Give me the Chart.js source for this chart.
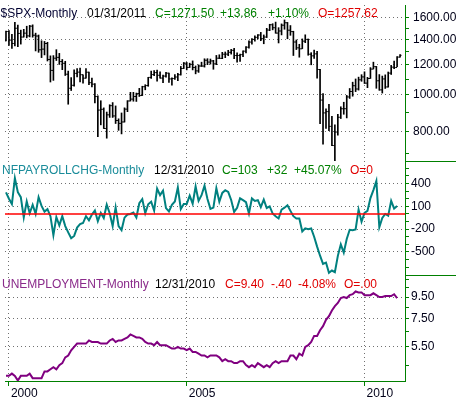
<!DOCTYPE html>
<html>
<head>
    <title>SPX / Payrolls / Unemployment - Monthly</title>
    <style>
        body { margin: 0; padding: 0; background-color: #ffffff; }
        #chart-box { width: 456px; height: 398px; }
    </style>
    <script src="https://cdn.jsdelivr.net/npm/chart.js"></script>
</head>
<body>
<div id="chart-box"><canvas id="market-chart" width="456" height="398"></canvas></div>

<script>
    // first month on the chart is Dec 1999, one value per month after that
    var firstMonth = 1999 + 11 / 12;

    // $SPX monthly bars, Dec 1999 .. Jan 2011
    var spxOpen = [1388.91,
        1469.25, 1394.46, 1366.42, 1498.58, 1452.43, 1420.60, 1454.60, 1430.83, 1517.68, 1436.51, 1429.40, 1314.95,
        1320.28, 1366.01, 1239.94, 1160.33, 1249.46, 1255.82, 1224.38, 1211.23, 1133.58, 1040.94, 1059.78, 1139.45,
        1148.08, 1130.20, 1106.73, 1147.39, 1076.92, 1067.14, 989.82, 911.62, 916.07, 815.28, 885.76, 936.31,
        879.82, 855.70, 841.15, 848.18, 916.92, 963.59, 974.50, 990.31, 1008.01, 995.97, 1050.71, 1058.20,
        1111.92, 1131.13, 1144.94, 1126.21, 1107.30, 1120.68, 1140.84, 1101.72, 1104.24, 1114.58, 1130.20, 1173.82,
        1211.92, 1181.27, 1203.60, 1180.59, 1156.85, 1191.50, 1191.33, 1234.18, 1220.33, 1228.81, 1207.01, 1249.48,
        1248.29, 1280.08, 1280.66, 1294.83, 1310.61, 1270.09, 1270.20, 1276.66, 1303.82, 1335.85, 1377.94, 1400.63,
        1418.30, 1438.24, 1406.82, 1420.86, 1482.37, 1530.62, 1503.35, 1455.27, 1473.99, 1526.75, 1549.38, 1481.14,
        1468.36, 1378.55, 1330.63, 1322.70, 1385.59, 1400.38, 1280.00, 1267.38, 1282.83, 1166.36, 968.75, 896.24,
        903.25, 825.88, 735.09, 797.87, 872.81, 919.14, 919.32, 987.48, 1020.62, 1057.08, 1036.19, 1095.63,
        1115.10, 1073.87, 1104.49, 1169.43, 1186.69, 1089.41, 1030.71, 1101.60, 1049.33, 1141.20, 1183.26, 1180.55,
        1257.62];
    var spxHigh = [1473.41,
        1478.00, 1444.55, 1552.87, 1527.19, 1481.51, 1488.77, 1517.32, 1525.21, 1530.09, 1454.82, 1438.46, 1389.06,
        1383.37, 1376.38, 1267.42, 1269.30, 1315.93, 1286.62, 1239.78, 1226.27, 1155.40, 1110.61, 1163.38, 1173.62,
        1176.97, 1130.20, 1173.03, 1147.84, 1106.59, 1070.71, 994.46, 965.00, 924.02, 900.96, 941.82, 954.28,
        935.05, 864.64, 895.90, 924.24, 965.38, 1015.33, 1015.41, 1011.01, 1040.29, 1053.79, 1063.65, 1112.56,
        1155.38, 1158.98, 1163.23, 1150.57, 1127.74, 1146.34, 1140.84, 1108.96, 1131.54, 1140.13, 1188.46, 1217.33,
        1217.80, 1212.44, 1229.11, 1191.88, 1200.08, 1219.59, 1245.15, 1245.86, 1243.13, 1233.34, 1270.64, 1275.80,
        1294.90, 1297.57, 1310.88, 1318.16, 1326.70, 1290.68, 1280.42, 1306.74, 1340.28, 1389.45, 1407.89, 1431.81,
        1441.61, 1461.57, 1438.89, 1498.02, 1535.56, 1540.56, 1555.90, 1503.89, 1538.74, 1576.09, 1552.76, 1523.57,
        1471.77, 1396.02, 1359.68, 1404.57, 1440.24, 1404.05, 1292.17, 1313.15, 1303.04, 1167.03, 1007.51, 918.85,
        943.85, 877.86, 832.98, 888.70, 930.17, 956.23, 996.68, 1039.47, 1080.15, 1101.36, 1113.69, 1130.38,
        1150.45, 1112.42, 1180.16, 1219.80, 1188.58, 1131.23, 1120.95, 1129.24, 1148.90, 1196.14, 1227.08, 1262.60,
        1278.17];
    var spxLow = [1387.38,
        1350.14, 1325.07, 1346.62, 1339.40, 1361.09, 1420.60, 1413.89, 1421.78, 1419.44, 1305.79, 1294.90, 1254.07,
        1274.62, 1228.33, 1081.19, 1091.99, 1232.00, 1203.03, 1165.54, 1124.87, 944.75, 1026.76, 1054.31, 1114.51,
        1081.66, 1074.36, 1106.73, 1063.46, 1048.96, 952.92, 775.68, 833.44, 815.28, 768.63, 872.05, 871.84,
        840.34, 806.29, 788.90, 847.85, 902.83, 963.59, 962.10, 960.84, 990.36, 995.97, 1031.20, 1053.41,
        1105.08, 1124.44, 1087.16, 1107.23, 1076.32, 1113.32, 1078.78, 1060.72, 1099.18, 1090.19, 1127.60, 1173.37,
        1163.75, 1180.95, 1163.69, 1136.15, 1146.18, 1188.30, 1183.55, 1201.07, 1205.35, 1168.20, 1201.07, 1246.59,
        1245.74, 1253.61, 1268.42, 1280.74, 1245.34, 1219.29, 1224.54, 1261.30, 1290.93, 1327.10, 1360.98, 1385.93,
        1403.97, 1389.42, 1363.98, 1416.37, 1476.70, 1484.18, 1454.25, 1370.60, 1439.29, 1489.56, 1406.10, 1435.65,
        1270.05, 1316.75, 1256.98, 1324.35, 1373.07, 1272.00, 1200.44, 1247.45, 1106.42, 839.80, 741.02, 815.69,
        804.47, 734.52, 666.79, 783.32, 866.10, 888.86, 869.32, 978.51, 991.97, 1019.95, 1029.38, 1085.89,
        1071.59, 1044.50, 1105.24, 1170.69, 1040.78, 1028.33, 1010.91, 1039.70, 1048.18, 1131.87, 1173.00, 1186.60,
        1257.62];
    var spxClose = [1469.25,
        1394.46, 1366.42, 1498.58, 1452.43, 1420.60, 1454.60, 1430.83, 1517.68, 1436.51, 1429.40, 1314.95, 1320.28,
        1366.01, 1239.94, 1160.33, 1249.46, 1255.82, 1224.38, 1211.23, 1133.58, 1040.94, 1059.78, 1139.45, 1148.08,
        1130.20, 1106.73, 1147.39, 1076.92, 1067.14, 989.82, 911.62, 916.07, 815.28, 885.76, 936.31, 879.82,
        855.70, 841.15, 848.18, 916.92, 963.59, 974.50, 990.31, 1008.01, 995.97, 1050.71, 1058.20, 1111.92,
        1131.13, 1144.94, 1126.21, 1107.30, 1120.68, 1140.84, 1101.72, 1104.24, 1114.58, 1130.20, 1173.82, 1211.92,
        1181.27, 1203.60, 1180.59, 1156.85, 1191.50, 1191.33, 1234.18, 1220.33, 1228.81, 1207.01, 1249.48, 1248.29,
        1280.08, 1280.66, 1294.83, 1310.61, 1270.09, 1270.20, 1276.66, 1303.82, 1335.85, 1377.94, 1400.63, 1418.30,
        1438.24, 1406.82, 1420.86, 1482.37, 1530.62, 1503.35, 1455.27, 1473.99, 1526.75, 1549.38, 1481.14, 1468.36,
        1378.55, 1330.63, 1322.70, 1385.59, 1400.38, 1280.00, 1267.38, 1282.83, 1166.36, 968.75, 896.24, 903.25,
        825.88, 735.09, 797.87, 872.81, 919.14, 919.32, 987.48, 1020.62, 1057.08, 1036.19, 1095.63, 1115.10,
        1073.87, 1104.49, 1169.43, 1186.69, 1089.41, 1030.71, 1101.60, 1049.33, 1141.20, 1183.26, 1180.55, 1257.64,
        1271.50];

    // nonfarm payroll change (thousands), Dec 1999 .. Dec 2010
    var nfpChange = [284,
        200, 130, 470, 286, 220, -46, 164, 8, 120, 0, 220, 105,
        30, 62, -30, -280, -43, -150, -30, -160, -243, -320, -290, -180,
        -135, -120, -30, -84, -7, 44, -96, 13, -54, 121, 9, -160,
        86, -161, -213, -49, -8, -1, 18, -48, 141, 194, 9, 127,
        160, 43, 334, 247, 306, 77, 33, 120, 163, 348, 65, 131,
        131, 239, 134, 361, 171, 246, 372, 195, 66, 83, 338, 160,
        276, 312, 288, 183, 26, 80, 205, 182, 155, 5, 204, 170,
        180, 88, 188, 78, 100, 5, -30, -60, 57, 82, 113, 40,
        -30, -60, -60, -230, -190, -200, -190, -300, -430, -550, -657, -640,
        -775, -745, -767, -552, -400, -509, -330, -209, -215, -205, 57, -103,
        14, 39, 208, 313, 432, -175, -54, -1, -24, 172, 71, 103];

    // unemployment rate (%), Dec 1999 .. Dec 2010
    var unemployment = [4.0,
        4.0, 4.1, 4.0, 3.8, 4.0, 4.0, 4.0, 4.1, 3.9, 3.9, 3.9, 3.9,
        4.2, 4.2, 4.3, 4.4, 4.3, 4.5, 4.6, 4.9, 5.0, 5.3, 5.5, 5.7,
        5.7, 5.7, 5.7, 5.9, 5.8, 5.8, 5.8, 5.7, 5.7, 5.7, 5.9, 6.0,
        5.8, 5.9, 5.9, 6.0, 6.1, 6.3, 6.2, 6.1, 6.1, 6.0, 5.8, 5.7,
        5.7, 5.6, 5.8, 5.6, 5.6, 5.6, 5.5, 5.4, 5.4, 5.5, 5.4, 5.4,
        5.3, 5.4, 5.2, 5.2, 5.1, 5.0, 5.0, 4.9, 5.0, 5.0, 5.0, 4.9,
        4.7, 4.8, 4.7, 4.7, 4.6, 4.6, 4.7, 4.7, 4.5, 4.4, 4.5, 4.4,
        4.6, 4.5, 4.4, 4.5, 4.4, 4.6, 4.7, 4.6, 4.7, 4.7, 4.7, 5.0,
        5.0, 4.8, 5.1, 5.0, 5.5, 5.6, 5.8, 6.2, 6.2, 6.6, 6.9, 7.4,
        7.7, 8.2, 8.6, 8.9, 9.4, 9.5, 9.4, 9.7, 9.8, 10.1, 10.0, 10.0,
        9.7, 9.7, 9.7, 9.9, 9.7, 9.5, 9.5, 9.6, 9.6, 9.6, 9.8, 9.4];

    // axis ticks (all get a tick mark, only the labelled ones get text + grid line)
    var yearTicks = [2000, 2005, 2010];
    var spxTicks = [700, 800, 900, 1000, 1100, 1200, 1300, 1400, 1500, 1600];
    var spxLabels = [800, 1000, 1200, 1400, 1600];
    var nfpTicks = [-700, -600, -500, -400, -300, -200, -100, 0, 100, 200, 300, 400, 500, 600];
    var nfpLabels = [400, 100, -200, -500];
    var unempTicks = [4.5, 5.5, 6.5, 7.5, 8.5, 9.5, 10.5, 11.5];
    var unempLabels = [5.5, 7.5, 9.5];

    // header text of each panel
    var spxHeader = ['$SPX-Monthly', '01/31/2011', 'C=1271.50', '+13.86', '+1.10%', 'O=1257.62'];
    var nfpHeader = ['NFPAYROLLCHG-Monthly', '12/31/2010', 'C=103', '+32', '+45.07%', 'O=0'];
    var unempHeader = ['UNEMPLOYMENT-Monthly', '12/31/2010', 'C=9.40', '-.40', '-4.08%', 'O=.00'];

    var FONT = '"Liberation Sans", Arial, sans-serif';
    var GREEN = '#008000';
    var RED = '#e00000';
    var TEAL = '#00807f';
    var PURPLE = '#800080';
    var GRID = '#707070';
    var xMin = 2000 - 4 / 36;
    var xMax = xMin + 405 / 36;

    function monthX(i) {
        return firstMonth + i / 12;
    }

    function points(values) {
        return values.map(function (v, i) { return {x: monthX(i), y: v}; });
    }

    // one of the three stacked value axes on the right
    function panelAxis(type, min, max, weight, ticks, labels, digits, pad) {
        return {
            type: type,
            position: 'right',
            stack: 'panels',
            stackWeight: weight,
            min: min,
            max: max,
            afterBuildTicks: function (scale) {
                scale.ticks = ticks.map(function (v) { return {value: v}; });
            },
            afterFit: function (scale) {
                scale.width = 51;
                scale.paddingTop = 0;
                scale.paddingBottom = 0;
            },
            ticks: {
                autoSkip: false,
                padding: pad,
                color: '#000018',
                font: {family: FONT, size: 12},
                callback: function (v) {
                    return labels.indexOf(v) >= 0 ? v.toFixed(digits) : '';
                }
            },
            grid: {
                offset: false,
                color: function (ctx) {
                    return ctx.tick && labels.indexOf(ctx.tick.value) >= 0 ? GRID : 'rgba(0,0,0,0)';
                },
                tickColor: GREEN,
                tickLength: 4,
                tickWidth: 1
            },
            border: {color: GREEN, width: 1, dash: [1, 3]}
        };
    }

    // draws the coloured header line of each panel and the green separators
    var panelText = {
        id: 'panelText',
        afterDraw: function (chart) {
            var ctx = chart.ctx;
            var area = chart.chartArea;
            var s = chart.scales;
            var heads = [
                {text: spxHeader, xs: [0.5, 87, 155, 220, 268, 318], y: s.ySpx.top + 11.5,
                    colors: ['#000030', '#000000', GREEN, GREEN, GREEN, RED]},
                {text: nfpHeader, xs: [2, 154, 222, 267, 294, 350], y: s.yNfp.top + 13.5,
                    colors: ['#1a8c9a', '#000000', GREEN, GREEN, GREEN, RED]},
                {text: unempHeader, xs: [2, 155, 225, 271, 298, 344], y: s.yUnemp.top + 12.5,
                    colors: ['#8a2a8a', '#000000', RED, RED, RED, RED]}
            ];
            ctx.save();
            ctx.font = '12px ' + FONT;
            ctx.textBaseline = 'alphabetic';
            ctx.textAlign = 'left';
            heads.forEach(function (h) {
                h.text.forEach(function (t, i) {
                    ctx.fillStyle = h.colors[i];
                    ctx.fillText(t, h.xs[i], h.y);
                });
            });
            ctx.strokeStyle = GREEN;
            ctx.lineWidth = 1;
            [s.yNfp.top, s.yUnemp.top].forEach(function (y) {
                var py = Math.round(y) + 0.5;
                ctx.beginPath();
                ctx.moveTo(area.right, py);
                ctx.lineTo(chart.width, py);
                ctx.stroke();
            });
            ctx.restore();
        }
    };

    var ctx = document.getElementById('market-chart').getContext('2d');
    var marketChart = new Chart(ctx, {
        type: 'line',
        data: {
            datasets: [
                {
                    type: 'bar',
                    label: 'SPX range',
                    yAxisID: 'ySpx',
                    data: spxLow.map(function (l, i) { return {x: monthX(i), y: [l, spxHigh[i]]}; }),
                    backgroundColor: '#000000',
                    borderWidth: 0,
                    barThickness: 1
                },
                {
                    label: 'SPX open',
                    yAxisID: 'ySpx',
                    data: points(spxOpen),
                    showLine: false,
                    pointStyle: 'dash',
                    rotation: 180,
                    pointRadius: 1.5,
                    pointBorderWidth: 1,
                    pointBorderColor: '#000000',
                    borderColor: '#000000'
                },
                {
                    label: 'SPX close',
                    yAxisID: 'ySpx',
                    data: points(spxClose),
                    showLine: false,
                    pointStyle: 'dash',
                    rotation: 0,
                    pointRadius: 1.5,
                    pointBorderWidth: 1,
                    pointBorderColor: '#000000',
                    borderColor: '#000000'
                },
                {
                    label: 'zero',
                    yAxisID: 'yNfp',
                    data: [{x: xMin, y: 0}, {x: xMax, y: 0}],
                    borderColor: '#ff0000',
                    borderWidth: 1.5,
                    pointRadius: 0
                },
                {
                    label: 'NFPAYROLLCHG',
                    yAxisID: 'yNfp',
                    data: points(nfpChange),
                    borderColor: TEAL,
                    borderWidth: 2,
                    pointRadius: 0,
                    tension: 0
                },
                {
                    label: 'UNEMPLOYMENT',
                    yAxisID: 'yUnemp',
                    data: points(unemployment),
                    borderColor: PURPLE,
                    borderWidth: 2,
                    pointRadius: 0,
                    tension: 0
                }
            ]
        },
        options: {
            responsive: false,
            animation: false,
            devicePixelRatio: 1,
            events: [],
            layout: {padding: 0},
            plugins: {
                legend: {display: false},
                tooltip: {enabled: false},
                title: {display: false}
            },
            scales: {
                x: {
                    type: 'linear',
                    min: xMin,
                    max: xMax,
                    offset: false,
                    afterBuildTicks: function (scale) {
                        scale.ticks = yearTicks.map(function (v) { return {value: v}; });
                    },
                    afterFit: function (scale) {
                        scale.height = 17;
                        scale.paddingLeft = 0;
                        scale.paddingRight = 0;
                    },
                    ticks: {
                        autoSkip: false,
                        maxRotation: 0,
                        align: 'start',
                        labelOffset: 2,
                        padding: 0,
                        color: '#000018',
                        font: {family: FONT, size: 12},
                        callback: function (v) { return String(v); }
                    },
                    grid: {offset: false, color: GRID, tickColor: GREEN, tickLength: 5},
                    border: {color: GREEN, width: 1, dash: [1, 3]}
                },
                ySpx: panelAxis('logarithmic', 669.5, 1726, 158, spxTicks, spxLabels, 2, 4),
                yNfp: panelAxis('linear', -809, 697, 116, nfpTicks, nfpLabels, 0, 2),
                yUnemp: panelAxis('logarithmic', 3.78, 12.05, 107, unempTicks, unempLabels, 2, 2)
            }
        },
        plugins: [panelText]
    });
</script>
</body>
</html>
